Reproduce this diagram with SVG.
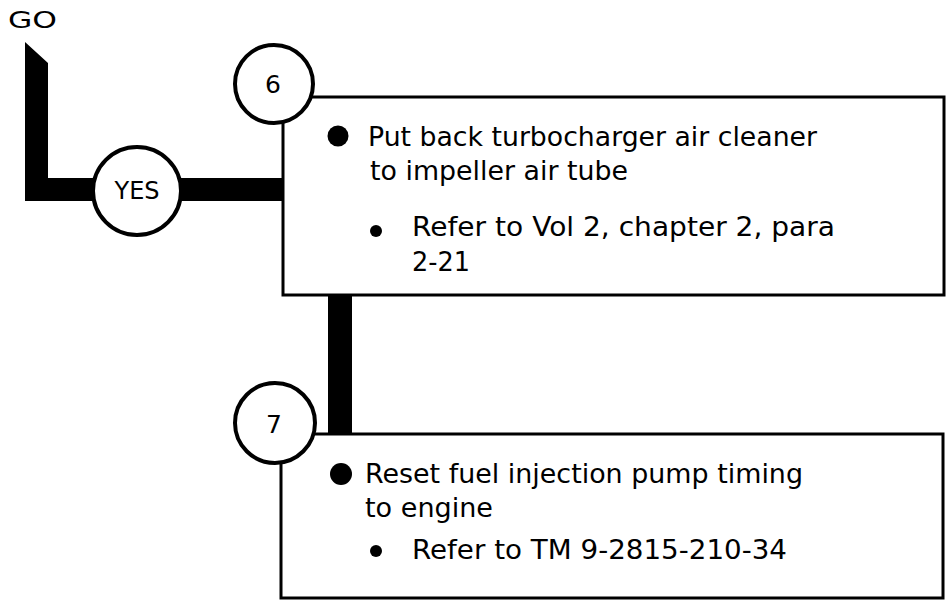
<svg xmlns="http://www.w3.org/2000/svg" width="949" height="600" viewBox="0 0 949 600">
<style>
text{font-family:"DejaVu Sans","Liberation Sans",sans-serif;fill:#000}
.t{font-size:26px}
.box{fill:#fff;stroke:#000;stroke-width:3}
.circ{fill:#fff;stroke:#000;stroke-width:4}
.num{font-size:25px;text-anchor:middle}
.thick{fill:#000;stroke:none}
</style>
<rect width="949" height="600" fill="#fff"/>
<g id="go">
<text x="8" y="28" font-size="23" textLength="49" lengthAdjust="spacingAndGlyphs">GO</text>
</g>
<g id="connectors">
<polygon class="thick" points="25,42 48,63 48,178 284,178 284,201 25,201"/>
<rect class="thick" x="328" y="296" width="24" height="139"/>
</g>
<g id="yes">
<circle class="circ" cx="137" cy="191" r="44"/>
<text x="137" y="199" font-size="24" text-anchor="middle">YES</text>
</g>
<g id="step6">
<rect class="box" x="283" y="97" width="661" height="198"/>
<circle class="circ" cx="274" cy="84" r="39"/>
<text class="num" x="273" y="93">6</text>
<circle cx="338" cy="136" r="10.5"/>
<text class="t" x="368" y="146" textLength="449" lengthAdjust="spacingAndGlyphs">Put back turbocharger air cleaner</text>
<text class="t" x="370" y="180" textLength="258" lengthAdjust="spacingAndGlyphs">to impeller air tube</text>
<circle cx="376" cy="231" r="6"/>
<text class="t" x="412" y="236" textLength="423" lengthAdjust="spacingAndGlyphs">Refer to Vol 2, chapter 2, para</text>
<text class="t" x="412" y="271" textLength="58" lengthAdjust="spacingAndGlyphs">2-21</text>
</g>
<g id="step7">
<rect class="box" x="281" y="434" width="662" height="164"/>
<circle class="circ" cx="275" cy="423" r="40"/>
<text class="num" x="274" y="433">7</text>
<circle cx="341" cy="474" r="11"/>
<text class="t" x="365" y="483" textLength="438" lengthAdjust="spacingAndGlyphs">Reset fuel injection pump timing</text>
<text class="t" x="365" y="517" textLength="128" lengthAdjust="spacingAndGlyphs">to engine</text>
<circle cx="376" cy="551" r="6"/>
<text class="t" x="412" y="559" textLength="375" lengthAdjust="spacingAndGlyphs">Refer to TM 9-2815-210-34</text>
</g>
</svg>
